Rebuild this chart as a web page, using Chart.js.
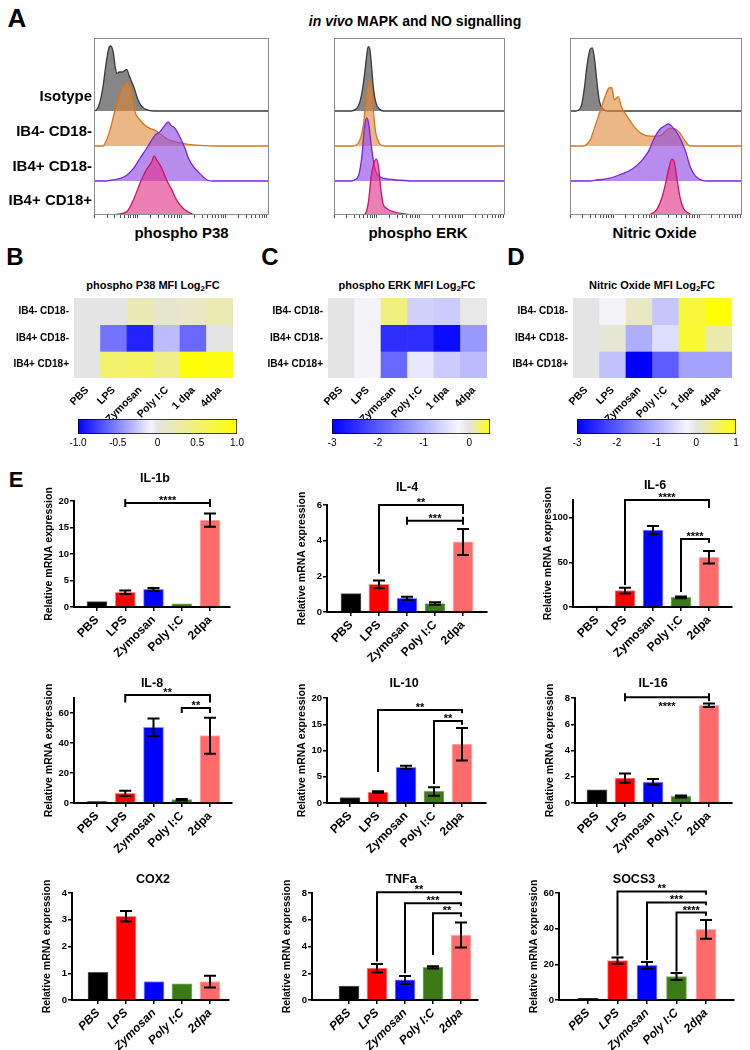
<!DOCTYPE html>
<html>
<head>
<meta charset="utf-8">
<script src="https://cdn.jsdelivr.net/npm/chart.js@4.4.1/dist/chart.umd.min.js"></script>
<style>
  body { margin: 0; background: #fff; }
  #page { position: relative; width: 750px; height: 1050px; overflow: hidden; font-family: "Liberation Sans", Arial, sans-serif; }
  canvas { position: absolute; }
  .t { position: absolute; font-weight: bold; white-space: nowrap; transform: translate(-50%, -50%); color: #000; z-index: 2; line-height: 1; }
  .t sub { font-size: 0.72em; vertical-align: -0.25em; }
</style>
</head>
<body>
<div id="page"></div>
<script>
/*
 * Panel A - flow histograms. x = position along the fluorescence axis (0-100),
 * h = height relative to the mode of each histogram
 */
const populations = ['Isotype', 'IB4- CD18-', 'IB4+ CD18-', 'IB4+ CD18+']
const histMarkers = ['phospho P38', 'phospho ERK', 'Nitric Oxide']
const logDecades = [0, 25, 50, 75]

const p38Iso = [[0,0],[1.5,0.02],[3,0.1],[5,0.35],[7,0.75],[8.5,0.97],[9.5,1.0],[11,0.9],[12,0.7],[13,0.58],[14.5,0.6],[16,0.6],[17.5,0.62],[18.7,0.64],[20,0.55],[21.5,0.45],[23,0.35],[25,0.18],[27,0.08],[30,0.02],[34,0],[100,0]]
const p38Neg = [[0,0],[5,0],[6.3,0.04],[9.1,0.24],[12,0.55],[14.9,0.81],[17.7,0.96],[19.2,0.98],[21.5,0.84],[23.4,0.53],[26.3,0.4],[29.1,0.32],[32,0.27],[34.9,0.24],[37.7,0.19],[41.5,0.11],[47,0.06],[53,0.03],[60.6,0.01],[70,0],[100,0]]
const p38Ib4 = [[0,0],[7,0],[9,0.01],[15,0.04],[18.7,0.09],[22.5,0.19],[26.3,0.35],[30,0.5],[33,0.63],[35,0.71],[37.7,0.76],[40.6,0.86],[42.5,0.91],[43.8,0.86],[46.3,0.81],[49,0.68],[52,0.5],[54,0.35],[56.8,0.22],[60.6,0.11],[64.4,0.02],[68,0],[100,0]]
const p38Pos = [[0,0],[12,0],[13,0.01],[18.7,0.05],[22.5,0.23],[26.3,0.49],[30,0.7],[33,0.82],[34.3,0.91],[35.8,0.85],[38.7,0.72],[41.5,0.54],[44.4,0.39],[47.2,0.23],[51,0.1],[54.9,0.03],[58,0],[100,0]]

const erkIso = [[0,0],[10,0],[11.5,0.01],[14.3,0.08],[16.2,0.26],[17.9,0.57],[19,0.83],[20,0.99],[21,0.94],[22,0.68],[23,0.36],[24.5,0.13],[26.6,0.03],[29,0],[100,0]]
const erkNeg = [[0,0],[11.5,0],[12.9,0.01],[15.1,0.09],[17,0.29],[18.4,0.6],[19.8,0.91],[20.9,1.0],[22,0.91],[23,0.55],[24.5,0.19],[26.6,0.04],[29,0],[100,0]]
const erkIb4 = [[0,0],[10,0],[11.5,0.01],[14.3,0.08],[16.2,0.36],[17.6,0.77],[19,0.97],[20.3,0.88],[21.7,0.57],[23.4,0.26],[25.3,0.1],[29.4,0.04],[37.6,0.015],[46,0],[100,0]]
const erkPos = [[0,0],[17,0],[18.4,0.02],[20.3,0.23],[21.7,0.59],[23.4,0.8],[24.7,0.86],[26,0.75],[27.2,0.44],[28.6,0.18],[30.8,0.1],[35,0.05],[40,0.02],[48,0],[100,0]]

const noIso = [[0,0],[3.5,0],[4.9,0.01],[6.8,0.1],[8.4,0.36],[10,0.72],[11.7,0.95],[13,0.97],[14.4,0.77],[15.8,0.41],[17.1,0.15],[19.3,0.03],[22,0],[100,0]]
const noNeg = [[0,0],[7.5,0],[9,0.01],[11.7,0.09],[14.4,0.29],[17.7,0.55],[20.4,0.76],[22.6,0.89],[24.2,0.9],[25.8,0.71],[28,0.76],[29.9,0.6],[33.4,0.45],[37.5,0.29],[41.6,0.19],[47,0.15],[52.4,0.16],[57.9,0.27],[60,0.27],[63.3,0.22],[66.6,0.09],[70,0],[100,0]]
const noIb4 = [[0,0],[12,0],[14.4,0.01],[22.6,0.04],[29.3,0.1],[36,0.18],[41.6,0.31],[45.7,0.46],[49.2,0.67],[52.4,0.8],[55.2,0.85],[57.3,0.88],[59.2,0.84],[62,0.75],[64.7,0.62],[67.4,0.44],[70,0.21],[72.8,0.08],[76.9,0.01],[80,0],[100,0]]
const noPos = [[0,0],[45,0],[47,0.015],[50.3,0.08],[53,0.23],[55.2,0.44],[57.3,0.7],[59.2,0.86],[60.6,0.82],[62,0.59],[63.9,0.28],[66,0.1],[68.8,0.03],[72,0],[100,0]]

/*
 * Panels B-D - MFI Log2 fold change heatmaps (rows = subsets, cols = conditions)
 */
const conditions = ['PBS', 'LPS', 'Zymosan', 'Poly I:C', '1 dpa', '4dpa']
const subsets = ['IB4- CD18-', 'IB4+ CD18-', 'IB4+ CD18+']
const p38Fc = [
  [0, 0, 0.2, 0.09, 0.13, 0.22],
  [0, -0.57, -0.87, -0.3, -0.61, 0],
  [0, 0.52, 0.56, 0.4, 0.96, 0.92]
]
const erkFc = [
  [0, -0.2, 0.2, -0.65, -0.72, -0.05],
  [0, -0.2, -2.5, -2.5, -2.88, -1.3],
  [0, -0.2, -1.83, -0.4, -0.72, -0.9]
]
const noFc = [
  [0, -0.2, 0.13, -0.78, 0.74, 1.0],
  [0, 0.07, -1.05, -0.52, 0.78, 0.24],
  [0, -0.85, -3.0, -1.96, -1.17, -1.17]
]
const p38Range = [-1, 1]
const erkRange = [-3, 0.45]
const noRange = [-3, 1]
const p38Ticks = [-1, -0.5, 0, 0.5, 1]
const p38TickLabels = ['-1.0', '-0.5', '0', '0.5', '1.0']
const erkTicks = [-3, -2, -1, 0]
const erkTickLabels = ['-3', '-2', '-1', '0']
const noTicks = [-3, -2, -1, 0, 1]
const noTickLabels = ['-3', '-2', '-1', '0', '1']

/*
 * Panel E - relative mRNA expression (mean, error), and significance brackets
 * bracket: [from, to, bracket height, left leg end, right leg end, stars, stars below]
 */
const treatments = ['PBS', 'LPS', 'Zymosan', 'Poly I:C', '2dpa']

const il1b = [1.0, 2.77, 3.33, 0.6, 16.4]
const il1bErr = [0, 0.32, 0.25, 0, 1.25]
const il1bTicks = [0, 5, 10, 15, 20]
const il1bSig = [[1, 4, 19.6, null, null, '****']]

const il4 = [1.03, 1.55, 0.77, 0.47, 3.93]
const il4Err = [0, 0.22, 0.08, 0.07, 0.73]
const il4Ticks = [0, 2, 4, 6]
const il4Sig = [[1, 4, 6.0, 2.15, 5.5, '**'], [2, 4, 5.12, null, null, '***']]

const il6 = [1, 18.3, 86.3, 10.8, 55.7]
const il6Err = [0, 3.2, 4.6, 1, 7]
const il6Ticks = [0, 50, 100]
const il6Sig = [[1, 4, 120, 24.7, 111, '****'], [3, 4, 76.4, 16.9, 72, '****']]

const il8 = [1, 6.4, 50.4, 2.2, 44.9]
const il8Err = [0, 1.7, 5.9, 0.5, 12]
const il8Ticks = [0, 20, 40, 60]
const il8Sig = [[1, 4, 72, 67, 67, '**'], [3, 4, 63.3, 60, 60, '**']]

const il10 = [1.05, 2.1, 6.8, 2.2, 11.2]
const il10Err = [0, 0.15, 0.3, 0.8, 3.1]
const il10Ticks = [0, 5, 10, 15, 20]
const il10Sig = [[1, 4, 17.7, 5.9, 17.1, '**'], [3, 4, 15.6, 3.6, 14.9, '**']]

const il16 = [1.0, 1.9, 1.6, 0.5, 7.45]
const il16Err = [0, 0.35, 0.22, 0.08, 0.13]
const il16Ticks = [0, 2, 4, 6, 8]
const il16Sig = [[1, 4, 8.05, null, null, '****', true]]

const cox2 = [1.03, 3.13, 0.69, 0.6, 0.69]
const cox2Err = [0, 0.2, 0, 0, 0.22]
const cox2Ticks = [0, 1, 2, 3, 4]
const cox2Sig = []

const tnfa = [1.05, 2.38, 1.5, 2.44, 4.86]
const tnfaErr = [0, 0.32, 0.3, 0.08, 0.93]
const tnfaTicks = [0, 2, 4, 6, 8]
const tnfaSig = [[1, 4, 8.05, 2.87, 7.85, '**'], [2, 4, 7.23, 2.0, 7.03, '***'], [3, 4, 6.48, 3.36, 6.23, '**']]

const socs3 = [1, 22.1, 19.4, 13.2, 39.6]
const socs3Err = [0, 1.8, 1.9, 2.0, 5.2]
const socs3Ticks = [0, 20, 40, 60]
const socs3Sig = [[1, 4, 60.9, 24.9, 59, '**'], [2, 4, 54.7, 22.5, 53.2, '***'], [3, 4, 49, 16, 47.2, '****']]

/* ---------- styling ---------- */
const histFill = ['rgba(100,100,100,0.78)', 'rgba(222,135,55,0.6)', 'rgba(140,70,225,0.62)', 'rgba(225,50,135,0.62)']
const histLine = ['#3a3a3a', '#d9741c', '#7a22e8', '#d0106a']
const rowBase = [104, 69, 34, 0]
const peakH = 65

const barFill = ['#000000', '#ff0000', '#0000ff', '#3b7a17', '#ff6b6b']
const barEdge = ['#555555', '#ff8a8a', '#8a8aff', '#7fae66', '#ffb3b3']

Chart.defaults.font.family = '"Liberation Sans", Arial, sans-serif'
Chart.defaults.font.weight = 'bold'
Chart.defaults.color = '#000'
Chart.defaults.animation = false
Chart.defaults.plugins.legend.display = false
Chart.defaults.plugins.tooltip.enabled = false

const page = document.getElementById('page')

const addText = (html, x, y, size) => {
  const d = document.createElement('div')
  d.className = 't'
  d.style.left = x + 'px'
  d.style.top = y + 'px'
  d.style.fontSize = size + 'px'
  d.innerHTML = html
  page.appendChild(d)
}

// area = [left, top, right, bottom] of the plot area on the page, m = [top, right, bottom, left] margins
const makeCanvas = (area, m) => {
  const c = document.createElement('canvas')
  const w = area[2] - area[0] + m[1] + m[3]
  const h = area[3] - area[1] + m[0] + m[2]
  c.width = w
  c.height = h
  c.style.left = (area[0] - m[3]) + 'px'
  c.style.top = (area[1] - m[0]) + 'px'
  c.style.width = w + 'px'
  c.style.height = h + 'px'
  page.appendChild(c)
  return c
}
// fix the size of an axis box and drop the label overhang padding so the plot area lands where we put it
const noPad = s => { s.paddingTop = 0; s.paddingBottom = 0; s.paddingLeft = 0; s.paddingRight = 0 }
const fitW = w => s => { s.width = w; noPad(s) }
const fitH = h => s => { s.height = h; noPad(s) }

/* ---------- heat colour scale ---------- */
const heatStops = ([lo, hi]) => [[lo, [0, 0, 255]], [lo * 0.08, [246, 246, 252]], [0, [228, 228, 228]], [hi, [255, 255, 0]]]
const heatColor = (v, range) => {
  const stops = heatStops(range)
  for (let i = 1; i < stops.length; i++) {
    if (v <= stops[i][0] || i === stops.length - 1) {
      const [v0, c0] = stops[i - 1]
      const [v1, c1] = stops[i]
      const t = Math.max(0, Math.min(1, (v - v0) / (v1 - v0)))
      return 'rgb(' + c0.map((a, k) => Math.round(a + (c1[k] - a) * t)).join(',') + ')'
    }
  }
}

/* ---------- panel A ---------- */
const frame = {
  id: 'frame',
  afterDraw(chart) {
    const {ctx, chartArea: a} = chart
    ctx.save()
    ctx.strokeStyle = '#8c8c8c'
    ctx.lineWidth = 1
    ctx.strokeRect(a.left + 0.5, a.top + 0.5, a.width - 1, a.height - 1)
    ctx.restore()
  }
}

const histogram = (area, curves, labels) => {
  const m = [2, 3, 8, labels ? area[0] : 3]
  const c = makeCanvas(area, m)
  new Chart(c, {
    type: 'line',
    data: {
      datasets: curves.map((pts, i) => ({
        data: pts.map(([x, h]) => ({x: x, y: rowBase[i] + h * peakH})),
        fill: {value: rowBase[i]},
        backgroundColor: histFill[i],
        borderColor: histLine[i],
        borderWidth: 1.3,
        pointRadius: 0,
        tension: 0.3,
        cubicInterpolationMode: 'monotone',
        order: 3 - i
      }))
    },
    options: {
      responsive: false,
      layout: {padding: {top: m[0], right: m[1], left: labels ? 0 : m[3]}},
      scales: {
        x: {
          type: 'linear', min: 0, max: 100,
          afterFit: fitH(m[2]),
          afterBuildTicks: s => {
            const t = []
            logDecades.forEach(d => { for (let k = 1; k < 10; k++) t.push({value: d + 25 * Math.log10(k)}) })
            s.ticks = t
          },
          ticks: {display: false},
          grid: {drawOnChartArea: false, tickLength: 3, color: '#555', lineWidth: 1},
          border: {display: false}
        },
        y: {
          min: 0, max: 177,
          display: !!labels,
          afterFit: fitW(m[3]),
          afterBuildTicks: s => { s.ticks = rowBase.map(b => ({value: b + 14})) },
          ticks: {callback: (v, i) => populations[i], font: {size: 15}, padding: 2},
          grid: {display: false, tickLength: 0},
          border: {display: false}
        }
      }
    },
    plugins: [frame]
  })
}

addText('A', 17, 18, 26)
addText('<i>in vivo</i> MAPK and NO signalling', 415, 21, 14)

const histBoxes = [[94, 38, 269, 215], [331, 38, 505, 215], [567, 38, 742, 215]]
const histSets = [[p38Iso, p38Neg, p38Ib4, p38Pos], [erkIso, erkNeg, erkIb4, erkPos], [noIso, noNeg, noIb4, noPos]]
histBoxes.forEach((box, i) => {
  histogram(box, histSets[i], i === 0)
  addText(histMarkers[i], (box[0] + box[2]) / 2, 232, 15)
})

/* ---------- panels B-D ---------- */
const heatmap = (area, fc, range) => {
  const m = [4, 6, 52, 74]
  const c = makeCanvas(area, m)
  new Chart(c, {
    type: 'bar',
    data: {
      labels: conditions,
      datasets: subsets.map((s, r) => ({
        data: conditions.map(() => [r - 0.5, r + 0.5]),
        backgroundColor: fc[r].map(v => heatColor(v, range)),
        borderWidth: 0,
        grouped: false,
        barPercentage: 1,
        categoryPercentage: 1
      }))
    },
    options: {
      responsive: false,
      layout: {padding: {top: m[0], right: m[1]}},
      scales: {
        x: {
          afterFit: fitH(m[2]),
          ticks: {minRotation: 45, maxRotation: 45, autoSkip: false, font: {size: 10.5}, padding: 6},
          grid: {display: false, tickLength: 0},
          border: {display: false}
        },
        y: {
          type: 'linear', reverse: true, min: -0.5, max: 2.5,
          afterFit: fitW(m[3]),
          afterBuildTicks: s => { s.ticks = subsets.map((x, i) => ({value: i})) },
          ticks: {callback: (v, i) => subsets[i], font: {size: 10}, padding: 5},
          grid: {display: false, tickLength: 0},
          border: {display: false}
        }
      }
    }
  })
}

const colorBar = (area, range, ticks, labels) => {
  const m = [2, 12, 18, 12]
  const c = makeCanvas(area, m)
  new Chart(c, {
    type: 'bar',
    data: {
      labels: [''],
      datasets: [{
        data: [range],
        backgroundColor: ctx => {
          const a = ctx.chart.chartArea
          if (!a || !isFinite(a.left) || !isFinite(a.right) || a.right <= a.left) return '#ccc'
          // the x scale spans exactly the colour range, so its ends are the chart area edges
          const g = ctx.chart.ctx.createLinearGradient(a.left, 0, a.right, 0)
          heatStops(range).forEach(([v, col]) => g.addColorStop((v - range[0]) / (range[1] - range[0]), 'rgb(' + col.join(',') + ')'))
          return g
        },
        borderColor: '#000',
        borderWidth: 1,
        borderSkipped: false,
        barPercentage: 1,
        categoryPercentage: 1
      }]
    },
    options: {
      responsive: false,
      indexAxis: 'y',
      layout: {padding: {top: m[0], right: m[1], left: m[3]}},
      scales: {
        x: {
          min: range[0], max: range[1],
          afterFit: fitH(m[2]),
          afterBuildTicks: s => { s.ticks = ticks.map(v => ({value: v})) },
          ticks: {callback: (v, i) => labels[i], font: {size: 10, weight: 'normal'}, padding: 3},
          grid: {drawOnChartArea: false, tickLength: 0},
          border: {display: false}
        },
        y: {display: false}
      }
    }
  })
}

addText('B', 15, 257, 24)
addText('C', 270, 257, 24)
addText('D', 516, 257, 24)
addText('phospho P38 MFI Log<sub>2</sub>FC', 153, 286, 11)
addText('phospho ERK MFI Log<sub>2</sub>FC', 407, 286, 11)
addText('Nitric Oxide MFI Log<sub>2</sub>FC', 652, 286, 11)
heatmap([74, 298, 233, 378], p38Fc, p38Range)
heatmap([328, 298, 487, 378], erkFc, erkRange)
heatmap([573, 298, 732, 378], noFc, noRange)
colorBar([78, 419, 237, 434], p38Range, p38Ticks, p38TickLabels)
colorBar([332, 419, 490, 434], erkRange, erkTicks, erkTickLabels)
colorBar([577, 419, 736, 434], noRange, noTicks, noTickLabels)

/* ---------- panel E ---------- */
const errorBars = (vals, err) => ({
  id: 'errorBars',
  afterDatasetsDraw(chart) {
    const {ctx, scales: {x, y}} = chart
    ctx.save()
    ctx.strokeStyle = '#000'
    ctx.lineWidth = 2
    err.forEach((e, i) => {
      if (!e) return
      const px = x.getPixelForValue(i)
      const t = y.getPixelForValue(vals[i] + e)
      const b = y.getPixelForValue(vals[i] - e)
      ctx.beginPath()
      ctx.moveTo(px, t); ctx.lineTo(px, b)
      ctx.moveTo(px - 6, t); ctx.lineTo(px + 6, t)
      ctx.moveTo(px - 6, b); ctx.lineTo(px + 6, b)
      ctx.stroke()
    })
    ctx.restore()
  }
})

const brackets = list => ({
  id: 'brackets',
  afterDraw(chart) {
    const {ctx, scales: {x, y}} = chart
    ctx.save()
    ctx.strokeStyle = '#000'
    ctx.fillStyle = '#000'
    ctx.lineWidth = 2
    ctx.font = 'bold 11px "Liberation Sans", Arial, sans-serif'
    ctx.textAlign = 'center'
    ctx.textBaseline = 'alphabetic'
    list.forEach(([a, b, top, la, lb, stars, below]) => {
      const xa = x.getPixelForValue(a)
      const xb = x.getPixelForValue(b)
      const yt = y.getPixelForValue(top)
      ctx.beginPath()
      if (la === null) {
        ctx.moveTo(xa, yt); ctx.lineTo(xb, yt)
        ctx.moveTo(xa, yt - 4); ctx.lineTo(xa, yt + 4)
        ctx.moveTo(xb, yt - 4); ctx.lineTo(xb, yt + 4)
      } else {
        ctx.moveTo(xa, y.getPixelForValue(la))
        ctx.lineTo(xa, yt)
        ctx.lineTo(xb, yt)
        ctx.lineTo(xb, y.getPixelForValue(lb))
      }
      ctx.stroke()
      ctx.fillText(stars, (xa + xb) / 2, below ? yt + 13 : yt + 1)
    })
    ctx.restore()
  }
})

const barChart = (area, first, last, yMax, vals, err, ticks, sig, italic) => {
  const ppu = (last - first) / 4
  const xmin = -(first - area[0]) / ppu
  const xmax = 4 + (area[2] - last) / ppu
  const m = [22, 8, 58, 34]
  const c = makeCanvas(area, m)
  new Chart(c, {
    type: 'bar',
    data: {
      datasets: [{
        data: vals.map((v, i) => ({x: i, y: v})),
        backgroundColor: barFill,
        borderColor: barEdge,
        borderWidth: 1,
        barThickness: 20
      }]
    },
    options: {
      responsive: false,
      layout: {padding: {top: m[0], right: m[1]}},
      scales: {
        x: {
          type: 'linear', min: xmin, max: xmax, offset: false,
          afterFit: fitH(m[2]),
          afterBuildTicks: s => { s.ticks = treatments.map((t, i) => ({value: i})) },
          ticks: {autoSkip: false, minRotation: 45, maxRotation: 45, padding: 2,
            font: {size: 12, style: italic ? 'italic' : 'normal'},
            callback: (v, i) => treatments[i]},
          grid: {offset: false, drawOnChartArea: false, tickLength: 4, color: '#000', lineWidth: 1.5},
          border: {color: '#000', width: 2}
        },
        y: {
          min: 0, max: yMax,
          afterFit: fitW(m[3]),
          afterBuildTicks: s => { s.ticks = ticks.map(v => ({value: v})) },
          ticks: {font: {size: 9.5}, padding: 1},
          grid: {drawOnChartArea: false, tickLength: 4, color: '#000', lineWidth: 1.5},
          border: {color: '#000', width: 2},
          title: {display: true, text: 'Relative mRNA expression', font: {size: 10.5}, padding: {top: 3, bottom: 0}}
        }
      }
    },
    plugins: [errorBars(vals, err), brackets(sig)]
  })
}

addText('E', 16, 480, 22)

const geneCharts = [
  ['IL-1b', [155, 478], [74, 501, 230, 607], 97, 210, 20, il1b, il1bErr, il1bTicks, il1bSig, false],
  ['IL-4', [407, 487], [327, 505, 487, 612], 351, 463, 6, il4, il4Err, il4Ticks, il4Sig, false],
  ['IL-6', [655, 485], [573, 500, 732, 607], 597, 709, 120, il6, il6Err, il6Ticks, il6Sig, false],
  ['IL-8', [152, 683], [74, 698, 232, 803], 97, 210, 70, il8, il8Err, il8Ticks, il8Sig, false],
  ['IL-10', [404, 683], [327, 698, 486, 803], 350, 462, 20, il10, il10Err, il10Ticks, il10Sig, false],
  ['IL-16', [653, 683], [575, 698, 732, 803], 597, 709, 8, il16, il16Err, il16Ticks, il16Sig, false],
  ['COX2', [153, 879], [72, 893, 229, 1000], 98, 210, 4, cox2, cox2Err, cox2Ticks, cox2Sig, true],
  ['TNFa', [401, 879], [312, 893, 478, 1000], 349, 461, 8, tnfa, tnfaErr, tnfaTicks, tnfaSig, true],
  ['SOCS3', [634, 879], [559, 893, 734, 1000], 588, 706, 60, socs3, socs3Err, socs3Ticks, socs3Sig, true]
]
geneCharts.forEach(([name, tp, area, first, last, yMax, vals, err, ticks, sig, italic]) => {
  addText(name, tp[0], tp[1], 12.5)
  barChart(area, first, last, yMax, vals, err, ticks, sig, italic)
})
</script>
</body>
</html>
